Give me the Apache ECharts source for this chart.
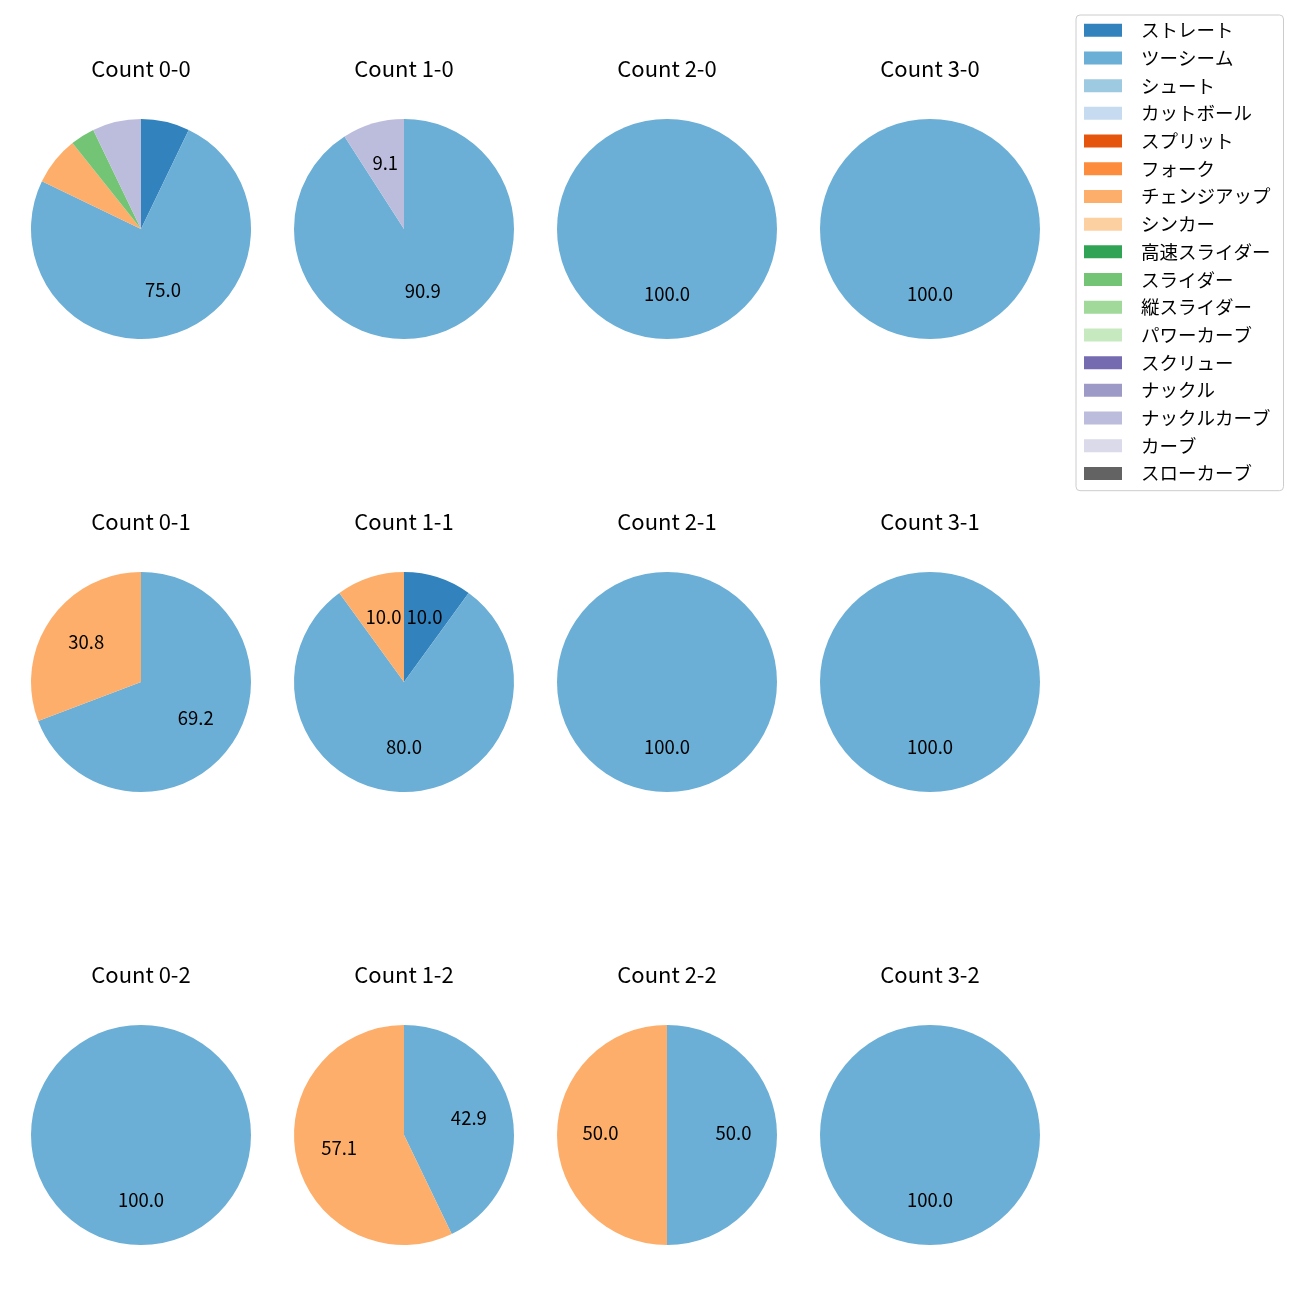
<!DOCTYPE html>
<html>
<head>
<meta charset="utf-8">
<script src="https://cdn.jsdelivr.net/npm/echarts@6/dist/echarts.min.js"></script>
<style>html,body{margin:0;padding:0;background:#fff}#c{width:1300px;height:1300px}</style>
</head>
<body>
<div id="c"></div>
<script>
const pitchTypes = ['ストレート','ツーシーム','シュート','カットボール','スプリット','フォーク','チェンジアップ','シンカー','高速スライダー','スライダー','縦スライダー','パワーカーブ','スクリュー','ナックル','ナックルカーブ','カーブ','スローカーブ'];
const pitchColors = ['#3182bd','#6baed6','#9ecae1','#c6dbef','#e6550d','#fd8d3c','#fdae6b','#fdd0a2','#31a354','#74c476','#a1d99b','#c7e9c0','#756bb1','#9e9ac8','#bcbddc','#dadaeb','#636363'];
const countTitles = ['Count 0-0','Count 1-0','Count 2-0','Count 3-0','Count 0-1','Count 1-1','Count 2-1','Count 3-1','Count 0-2','Count 1-2','Count 2-2','Count 3-2'];
//                 St Tw Sh Ct Sp Fk Ch Si HS Sl VS PC Sc Kn KC Cv SC
const count00 = [2,21,0,0,0,0,2,0,0,1,0,0,0,0,2,0,0];
const count10 = [0,10,0,0,0,0,0,0,0,0,0,0,0,0,1,0,0];
const count20 = [0,3,0,0,0,0,0,0,0,0,0,0,0,0,0,0,0];
const count30 = [0,1,0,0,0,0,0,0,0,0,0,0,0,0,0,0,0];
const count01 = [0,9,0,0,0,0,4,0,0,0,0,0,0,0,0,0,0];
const count11 = [1,8,0,0,0,0,1,0,0,0,0,0,0,0,0,0,0];
const count21 = [0,4,0,0,0,0,0,0,0,0,0,0,0,0,0,0,0];
const count31 = [0,2,0,0,0,0,0,0,0,0,0,0,0,0,0,0,0];
const count02 = [0,6,0,0,0,0,0,0,0,0,0,0,0,0,0,0,0];
const count12 = [0,3,0,0,0,0,4,0,0,0,0,0,0,0,0,0,0];
const count22 = [0,1,0,0,0,0,1,0,0,0,0,0,0,0,0,0,0];
const count32 = [0,1,0,0,0,0,0,0,0,0,0,0,0,0,0,0,0];
const countValues = [count00,count10,count20,count30,count01,count11,count21,count31,count02,count12,count22,count32];

const colX = [141, 404, 667, 930];
const rowY = [229, 682, 1135];
const R = 110;
const FONT = '"Noto Sans CJK JP", "Noto Sans", sans-serif';

const series = [];
const titles = [];
countValues.forEach((vals, i) => {
  const cx = colX[i % 4], cy = rowY[Math.floor(i / 4)];
  const total = vals.reduce((a, b) => a + b, 0);
  const data = pitchTypes.map((n, k) => ({ name: n, value: vals[k] }));
  series.push({
    type: 'pie', center: [cx, cy], radius: [0, R], startAngle: 90, clockwise: true,
    data: data, label: { show: false }, labelLine: { show: false },
    emphasis: { disabled: true }, silent: true, avoidLabelOverlap: false
  });
  series.push({
    type: 'pie', center: [cx, cy], radius: [17, R], startAngle: 90, clockwise: true,
    data: data, itemStyle: { color: 'rgba(0,0,0,0)' }, labelLine: { show: false },
    emphasis: { disabled: true }, silent: true, avoidLabelOverlap: false,
    labelLayout: { dy: -2 },
    label: {
      show: true, position: 'inside', color: '#000', fontSize: 18.5, fontFamily: FONT,
      formatter: p => { const pc = p.value / total * 100; return pc >= 8 ? pc.toFixed(1) : ''; }
    }
  });
  titles.push({
    text: countTitles[i], left: cx, top: cy - 171, textAlign: 'center', padding: 0,
    textStyle: { fontSize: 22, fontWeight: 'normal', color: '#000', fontFamily: FONT }
  });
});

const chart = echarts.init(document.getElementById('c'));
chart.setOption({
  animation: false,
  color: pitchColors,
  title: titles,
  legend: {
    orient: 'vertical', left: 1076, top: 15, data: pitchTypes,
    itemWidth: 38, itemHeight: 13, itemGap: 9.2, icon: 'rect',
    padding: [6, 13, 8, 8],
    backgroundColor: '#fff', borderColor: '#cccccc', borderWidth: 1, borderRadius: 4,
    selectedMode: false,
    textStyle: { fontSize: 18.5, lineHeight: 18.5, color: '#000', fontFamily: FONT, padding: [0, 0, 0, 14] }
  },
  series: series
});
</script>
</body>
</html>
